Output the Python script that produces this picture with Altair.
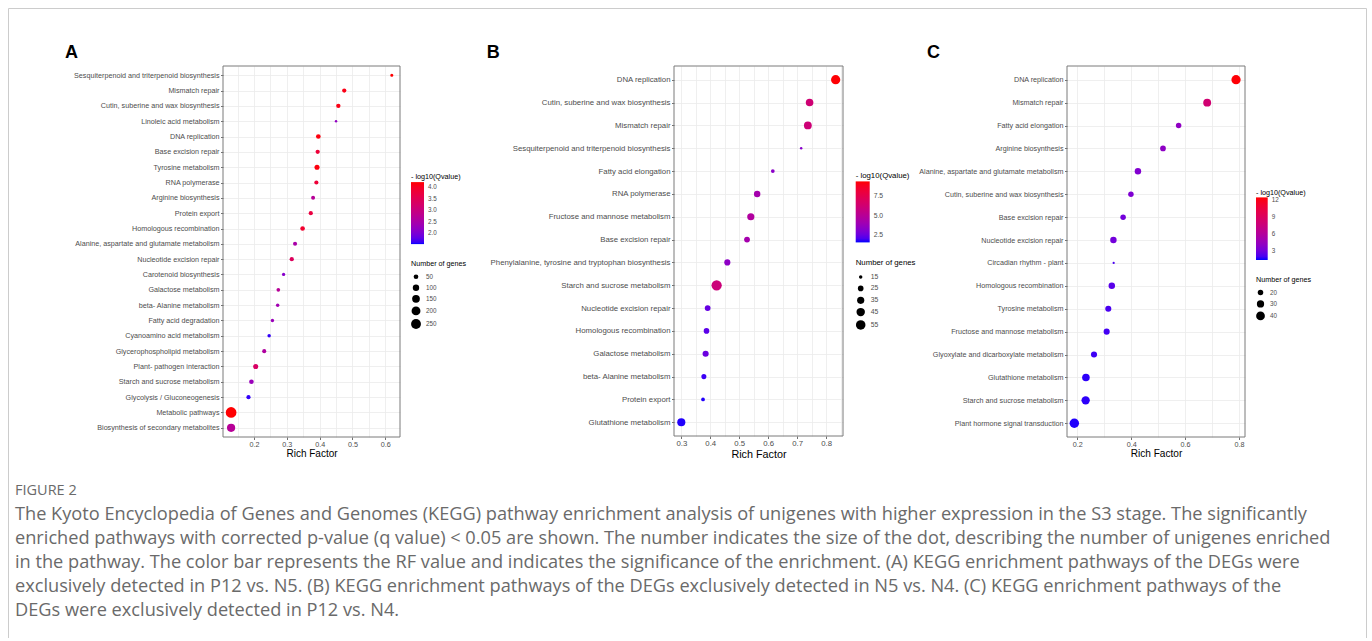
import altair as alt
import pandas as pd

# ---------------- data ----------------
paths_a = ["Sesquiterpenoid and triterpenoid biosynthesis", "Mismatch repair",
           "Cutin, suberine and wax biosynthesis", "Linoleic acid metabolism",
           "DNA replication", "Base excision repair", "Tyrosine metabolism",
           "RNA polymerase", "Arginine biosynthesis", "Protein export",
           "Homologous recombination", "Alanine, aspartate and glutamate metabolism",
           "Nucleotide excision repair", "Carotenoid biosynthesis", "Galactose metabolism",
           "beta- Alanine metabolism", "Fatty acid degradation", "Cyanoamino acid metabolism",
           "Glycerophospholipid metabolism", "Plant- pathogen interaction",
           "Starch and sucrose metabolism", "Glycolysis / Gluconeogenesis",
           "Metabolic pathways", "Biosynthesis of secondary metabolites"]
rich_a = [0.620, 0.475, 0.457, 0.450, 0.396, 0.394, 0.392, 0.390, 0.380, 0.373, 0.348, 0.325,
          0.315, 0.290, 0.274, 0.272, 0.256, 0.246, 0.231, 0.205, 0.192, 0.183, 0.130, 0.130]
q_a = [4.2, 4.1, 4.1, 2.2, 4.15, 3.8, 4.15, 3.8, 2.7, 3.7, 3.9, 2.5,
       3.4, 2.1, 2.7, 2.4, 2.3, 1.6, 2.6, 3.3, 2.3, 1.6, 4.2, 2.7]
genes_a = [18, 40, 42, 8, 50, 40, 60, 38, 34, 38, 48, 36,
           40, 20, 28, 24, 22, 24, 36, 60, 48, 38, 295, 170]

paths_b = ["DNA replication", "Cutin, suberine and wax biosynthesis", "Mismatch repair",
           "Sesquiterpenoid and triterpenoid biosynthesis", "Fatty acid elongation",
           "RNA polymerase", "Fructose and mannose metabolism", "Base excision repair",
           "Phenylalanine, tyrosine and tryptophan biosynthesis", "Starch and sucrose metabolism",
           "Nucleotide excision repair", "Homologous recombination", "Galactose metabolism",
           "beta- Alanine metabolism", "Protein export", "Glutathione metabolism"]
rich_b = [0.833, 0.743, 0.737, 0.714, 0.616, 0.562, 0.540, 0.527,
          0.459, 0.422, 0.391, 0.387, 0.384, 0.378, 0.375, 0.300]
q_b = [9.4, 6.2, 6.1, 3.2, 3.3, 4.2, 4.7, 4.2, 3.4, 6.0, 2.4, 2.2, 2.5, 1.8, 1.6, 1.6]
genes_b = [52, 38, 40, 12, 16, 30, 35, 26, 28, 62, 26, 25, 28, 22, 16, 42]

paths_c = ["DNA replication", "Mismatch repair", "Fatty acid elongation", "Arginine biosynthesis",
           "Alanine, aspartate and glutamate metabolism", "Cutin, suberine and wax biosynthesis",
           "Base excision repair", "Nucleotide excision repair", "Circadian rhythm -  plant",
           "Homologous recombination", "Tyrosine metabolism", "Fructose and mannose metabolism",
           "Glyoxylate and dicarboxylate metabolism", "Glutathione metabolism",
           "Starch and sucrose metabolism", "Plant hormone signal transduction"]
rich_c = [0.789, 0.682, 0.576, 0.518, 0.425, 0.399, 0.370, 0.334,
          0.335, 0.328, 0.315, 0.309, 0.262, 0.232, 0.231, 0.189]
q_c = [12.3, 8.0, 4.1, 4.0, 3.5, 3.4, 3.0, 3.0, 2.0, 2.3, 2.0, 1.9, 1.8, 1.6, 1.6, 1.5]
genes_c = [44, 34, 20, 21, 25, 20, 20, 25, 9, 25, 23, 23, 23, 32, 37, 46]

caption_head = ["FIGURE 2"]
caption_lines = [
    "The Kyoto Encyclopedia of Genes and Genomes (KEGG) pathway enrichment analysis of unigenes with higher expression in the S3 stage. The significantly",
    "enriched pathways with corrected p-value (q value) < 0.05 are shown. The number indicates the size of the dot, describing the number of unigenes enriched",
    "in the pathway. The color bar represents the RF value and indicates the significance of the enrichment. (A) KEGG enrichment pathways of the DEGs were",
    "exclusively detected in P12 vs. N5. (B) KEGG enrichment pathways of the DEGs exclusively detected in N5 vs. N4. (C) KEGG enrichment pathways of the",
    "DEGs were exclusively detected in P12 vs. N4.",
]

FONT = "Liberation Sans"
GRID = "#ebebeb"
FRAME = "#7a7a7a"
TXT = "#4d4d4d"
BORDER = "#cccccc"
dummy = pd.DataFrame({"k": [0]})


def panel(paths, rich, q, genes, *, plot_w, view_w, h, xdom, xvals, major_mult, fmt,
          qdom, qvals, qfmt, sdom, srange, svals, legx, legy_c, legy_s, grad_w, grad_len,
          fs, fs_title, fs_leg_lab, letter, letter_x, row_pad, extra=None):
    df = pd.DataFrame({"path": paths, "rich": rich, "q": q, "genes": genes})
    test = f"abs(datum.value*{major_mult} - round(datum.value*{major_mult})) < 0.001"
    xaxis = alt.Axis(
        title="Rich Factor", values=xvals,
        labelExpr=f"{test} ? format(datum.value, '{fmt}') : ''",
        grid=True, gridColor=GRID, gridWidth=0.8, domain=False,
        tickSize=2.5, tickColor="#333333", tickWidth=0.7,
        tickOpacity={"condition": {"test": test, "value": 1}, "value": 0},
        labelFontSize=fs, labelColor=TXT, labelPadding=1, labelFlush=False,
        labelOverlap=False, titleFontSize=fs_title, titleFontWeight="normal",
        titleColor="black", titlePadding=1)
    yaxis = alt.Axis(
        title=None, grid=True, gridColor=GRID, gridWidth=0.8, domain=False,
        tickSize=2.5, tickColor="#333333", tickWidth=0.7, labelFontSize=fs,
        labelColor=TXT, labelPadding=1.5, labelLimit=400)
    pts = alt.Chart(df).mark_circle(opacity=1, color="black").encode(
        x=alt.X("rich:Q", scale=alt.Scale(domain=xdom, range=[0, plot_w], nice=False, zero=False),
                axis=xaxis),
        y=alt.Y("path:N", sort=paths, scale=alt.Scale(type="point", padding=0.6), axis=yaxis),
        color=alt.Color("q:Q",
                        scale=alt.Scale(domain=qdom, range=["#0000ff", "#ff0000"], interpolate="lab"),
                        legend=alt.Legend(title="- log10(Qvalue)", orient="none", legendX=legx,
                                          legendY=legy_c, direction="vertical",
                                          gradientLength=grad_len, gradientThickness=grad_w,
                                          gradientStrokeWidth=0, values=qvals, format=qfmt,
                                          labelFontSize=fs_leg_lab, labelColor=TXT,
                                          labelOffset=4, labelOverlap=False,
                                          titleFontSize=fs, titleFontWeight="normal",
                                          titleColor="black", titlePadding=1.5, padding=0)),
        size=alt.Size("genes:Q", scale=alt.Scale(domain=sdom, range=srange),
                      legend=alt.Legend(title="Number of genes", orient="none", legendX=legx,
                                        legendY=legy_s, direction="vertical", values=svals,
                                        symbolType="circle", symbolFillColor="black",
                                        symbolStrokeColor="black", symbolStrokeWidth=0,
                                        symbolOpacity=1, labelFontSize=fs_leg_lab,
                                        labelColor=TXT, labelOffset=5, rowPadding=row_pad,
                                        titleFontSize=fs, titleFontWeight="normal",
                                        titleColor="black", titlePadding=6.5, padding=0)),
    )
    frame = alt.Chart(dummy).mark_rect(fill="transparent", stroke=FRAME, strokeWidth=1).encode(
        x=alt.value(0), x2=alt.value(plot_w), y=alt.value(0), y2=alt.value(h))
    let = alt.Chart(dummy).mark_text(text=letter, fontSize=18, fontWeight="bold", align="left",
                                     baseline="alphabetic", color="black").encode(
        x=alt.value(letter_x), y=alt.value(-7.7))
    layers = [pts, frame, let] + (extra or [])
    return alt.layer(*layers).properties(width=view_w, height=h)


# decorative page border and caption (drawn in panel A's coordinate frame)
border_top = alt.Chart(dummy).mark_rule(color=BORDER, strokeWidth=1).encode(
    x=alt.value(-214.5), x2=alt.value(1143.5), y=alt.value(-57.5))
border_left = alt.Chart(dummy).mark_rule(color=BORDER, strokeWidth=1).encode(
    x=alt.value(-214.5), y=alt.value(-57.5), y2=alt.value(572))
border_right = alt.Chart(dummy).mark_rule(color=BORDER, strokeWidth=1).encode(
    x=alt.value(1143.5), y=alt.value(-57.5), y2=alt.value(572))
head = alt.Chart(pd.DataFrame({"t": caption_head})).mark_text(
    align="left", baseline="alphabetic", font="Open Sans", fontSize=14.5, color="#6a6a6a").encode(
    text="t:N", x=alt.value(-208), y=alt.value(429))
cap = alt.Chart(pd.DataFrame({"t": ["\n".join(caption_lines)]})).mark_text(
    align="left", baseline="alphabetic", font="Open Sans", fontSize=18.2, color="#6a6a6a",
    lineBreak="\n", lineHeight=24.2).encode(
    text="t:N", x=alt.value(-208), y=alt.value(453.5))

A = panel(paths_a, rich_a, q_a, genes_a, plot_w=177, view_w=227, h=371,
          xdom=[0.1053, 0.6450], xvals=[0.15, 0.2, 0.25, 0.3, 0.35, 0.4, 0.45, 0.5, 0.55, 0.6],
          major_mult=10, fmt=".1f", qdom=[1.53, 4.21], qvals=[2.0, 2.5, 3.0, 3.5, 4.0], qfmt=".1f",
          sdom=[8, 295], srange=[6, 115], svals=[50, 100, 150, 200, 250],
          legx=188, legy_c=107.4, legy_s=193.9, grad_w=13, grad_len=62,
          fs=7.2, fs_title=10, fs_leg_lab=6.3, letter="A", letter_x=-158, row_pad=3.6,
          extra=[border_top, border_left, border_right, head, cap])

B = panel(paths_b, rich_b, q_b, genes_b, plot_w=169, view_w=169, h=370,
          xdom=[0.2748, 0.8584], xvals=[0.3, 0.35, 0.4, 0.45, 0.5, 0.55, 0.6, 0.65, 0.7, 0.75, 0.8, 0.85],
          major_mult=10, fmt=".1f", qdom=[1.5, 9.45], qvals=[2.5, 5.0, 7.5], qfmt=".1f",
          sdom=[12, 62], srange=[6, 105], svals=[15, 25, 35, 45, 55],
          legx=181.7, legy_c=106.1, legy_s=193.4, grad_w=14, grad_len=61,
          fs=7.8, fs_title=10.8, fs_leg_lab=6.8, letter="B", letter_x=-187.3, row_pad=3.3)

C = panel(paths_c, rich_c, q_c, genes_c, plot_w=178, view_w=178, h=371,
          xdom=[0.1618, 0.8223], xvals=[0.2, 0.3, 0.4, 0.5, 0.6, 0.7, 0.8],
          major_mult=5, fmt=".1f", qdom=[1.36, 12.4], qvals=[3, 6, 9, 12], qfmt="d",
          sdom=[9, 46], srange=[5, 90], svals=[20, 30, 40],
          legx=189, legy_c=122.7, legy_s=209.7, grad_w=11.7, grad_len=62.6,
          fs=7.2, fs_title=10.1, fs_leg_lab=6.3, letter="C", letter_x=-140, row_pad=3.5)

chart = alt.hconcat(A, B, C, spacing=224, bounds="flush").resolve_scale(
    x="independent", y="independent", color="independent", size="independent"
).resolve_legend(color="independent", size="independent").properties(
    padding={"left": 8, "top": 8, "right": 5, "bottom": 0}
).configure(font=FONT).configure_view(strokeWidth=0)

chart.save("out.html", embed_options={"renderer": "svg", "actions": False})
